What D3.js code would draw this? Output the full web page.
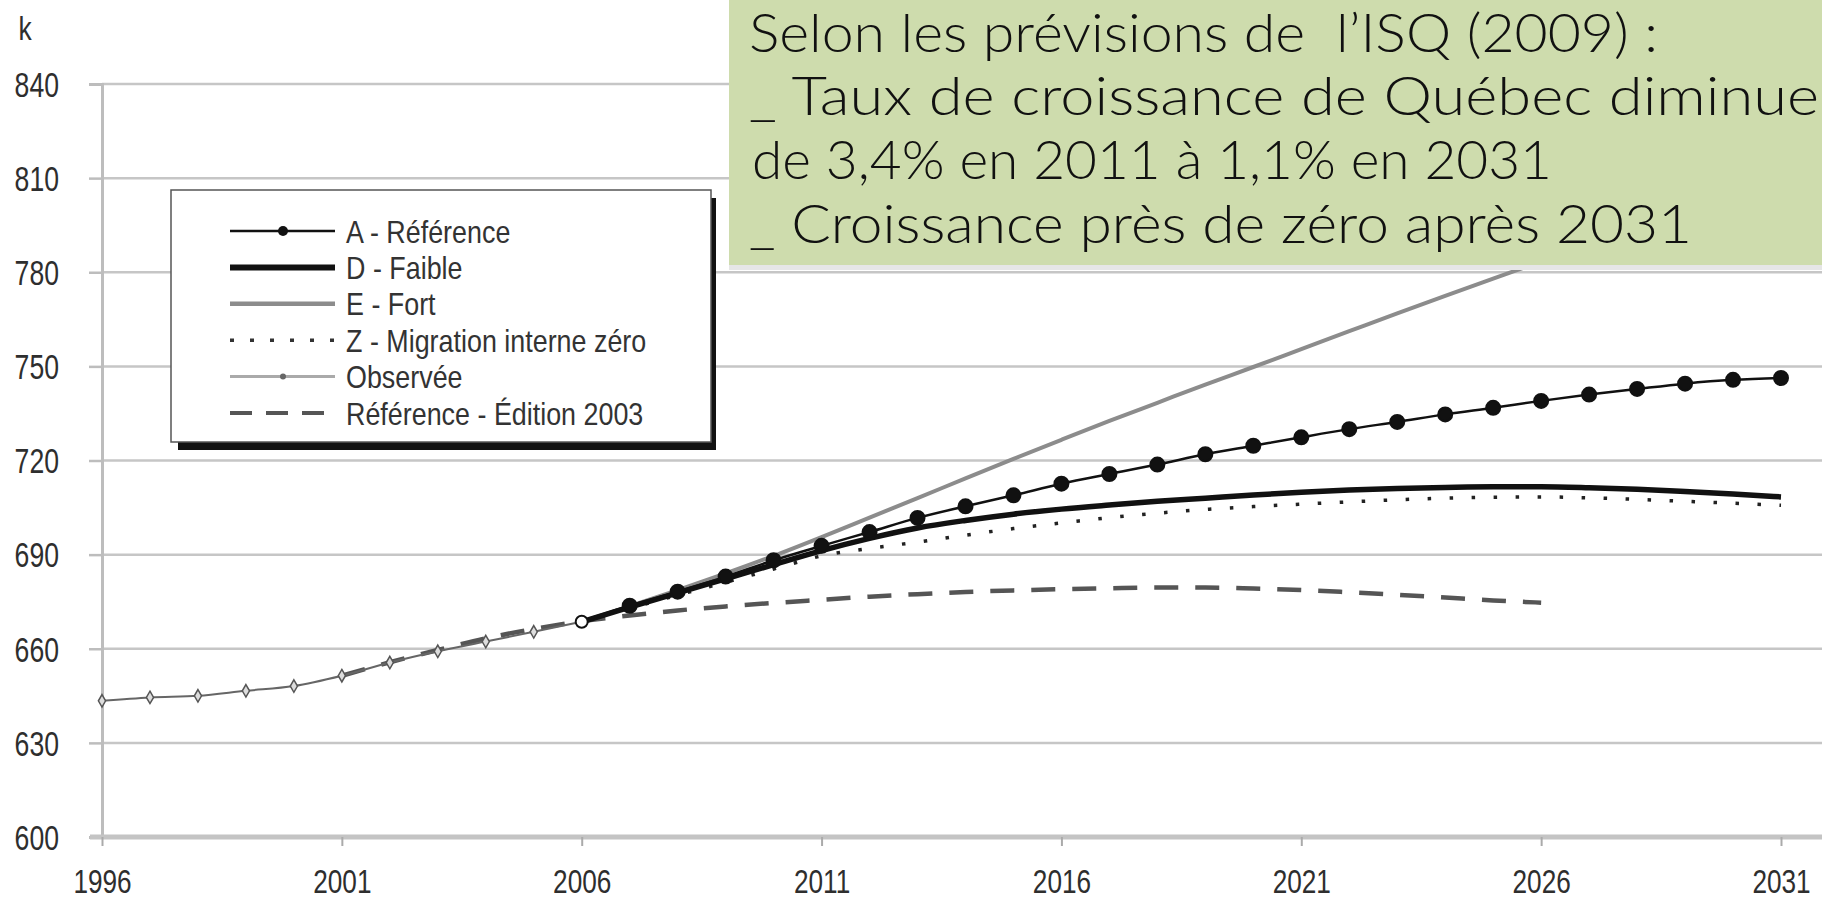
<!DOCTYPE html>
<html>
<head>
<meta charset="utf-8">
<script src="https://cdn.jsdelivr.net/npm/d3@7"></script>
<style>
  body { margin: 0; background: #fff; }
  svg { display: block; }
  .tick-label { font-family: "Liberation Sans", Arial, sans-serif; fill: #2e2e2e; }
  .legend-label { font-family: "Liberation Sans", Arial, sans-serif; fill: #333; }
  .note { font-family: Lato, "Noto Sans", sans-serif; font-weight: 300; fill: #111; white-space: pre; }
</style>
</head>
<body>
<div id="chart"></div>
<script>
// values in thousands (k)
const xTicks = [1996, 2001, 2006, 2011, 2016, 2021, 2026, 2031];
const yTicks = [600, 630, 660, 690, 720, 750, 780, 810, 840];

const obsYears = [1996, 1997, 1998, 1999, 2000, 2001, 2002, 2003, 2004, 2005, 2006];
const observed = [643.4, 644.5, 645.0, 646.6, 648.1, 651.4, 655.6, 659.2, 662.3, 665.4, 668.6];

const projYears = [2006, 2007, 2008, 2009, 2010, 2011, 2012, 2013, 2014, 2015, 2016, 2017, 2018,
  2019, 2020, 2021, 2022, 2023, 2024, 2025, 2026, 2027, 2028, 2029, 2030, 2031];
const scenA = [668.6, 673.7, 678.2, 683.0, 688.2, 692.8, 697.2, 701.7, 705.4, 708.9, 712.6, 715.7, 718.7,
  722.0, 724.7, 727.4, 730.0, 732.3, 734.7, 736.8, 739.0, 741.0, 742.8, 744.5, 745.7, 746.3];
const scenD = [668.6, 673.3, 677.8, 682.3, 686.8, 691.3, 695.2, 698.5, 700.9, 702.9, 704.5, 705.8, 707.0,
  708.0, 709.0, 709.9, 710.6, 711.1, 711.4, 711.6, 711.6, 711.3, 710.8, 710.1, 709.3, 708.4];
const scenE = [668.6, 673.6, 678.7, 684.0, 689.6, 695.6, 701.8, 708.0, 714.3, 720.5, 726.6, 732.6, 738.4,
  744.2, 749.8, 755.5, 761.2, 766.9, 772.5, 778.0, 783.4, 788.6, 793.7, 798.7, 803.6, 808.4];
const scenZ = [668.6, 672.9, 677.1, 681.2, 685.4, 689.6, 692.0, 694.0, 696.2, 698.3, 700.1, 701.8, 703.2,
  704.4, 705.3, 706.1, 706.8, 707.5, 708.0, 708.3, 708.4, 708.1, 707.6, 707.0, 706.4, 705.7];

const ref2003Years = [2001, 2002, 2003, 2004, 2005, 2006, 2007, 2008, 2009, 2010, 2011, 2012, 2013,
  2014, 2015, 2016, 2017, 2018, 2019, 2020, 2021, 2022, 2023, 2024, 2025, 2026];
const ref2003 = [651.4, 655.7, 659.6, 663.3, 666.3, 668.8, 670.6, 672.2, 673.5, 674.6, 675.6, 676.6, 677.4,
  678.1, 678.6, 679.0, 679.3, 679.5, 679.5, 679.2, 678.7, 678.0, 677.2, 676.3, 675.4, 674.7];

const legendLabels = ['A - Référence', 'D - Faible', 'E - Fort', 'Z - Migration interne zéro',
  'Observée', 'Référence - Édition 2003'];
const noteLines = ['Selon les prévisions de  l’ISQ (2009) :', '_ Taux de croissance de Québec diminue',
  'de 3,4% en 2011 à 1,1% en 2031', '_ Croissance près de zéro après 2031'];

const width = 1822;
const height = 899;

const svg = d3.select('#chart').append('svg')
  .attr('width', width)
  .attr('height', height);

const x = d3.scaleLinear().domain([1996, 2031]).range([102, 1781]);
const y = d3.scaleLinear().domain([600, 840]).range([837, 84]);

// gridlines
svg.append('g')
  .selectAll('line')
  .data(yTicks.slice(1))
  .enter().append('line')
  .attr('x1', x(1996))
  .attr('x2', width)
  .attr('y1', d => y(d))
  .attr('y2', d => y(d))
  .attr('stroke', '#c6c6c6')
  .attr('stroke-width', 2.5);

// y axis (labels squeezed sideways, the original uses a condensed face)
const yAxis = svg.append('g')
  .attr('transform', `translate(${x(1996)},0)`)
  .call(d3.axisLeft(y).tickValues(yTicks).tickSize(13));
yAxis.select('.domain').attr('stroke', '#bdbdbd').attr('stroke-width', 3);
yAxis.selectAll('.tick line').attr('stroke', '#bdbdbd').attr('stroke-width', 2.5);
yAxis.selectAll('.tick text')
  .attr('class', 'tick-label')
  .attr('font-size', 35)
  .attr('x', 0)
  .attr('text-anchor', 'end')
  .attr('dy', '0.35em')
  .attr('transform', 'translate(-43,0) scale(0.76,1)');

// x axis
const xAxis = svg.append('g')
  .attr('transform', `translate(0,${y(600)})`)
  .call(d3.axisBottom(x).tickValues(xTicks).tickFormat(d3.format('d')).tickSize(9).tickPadding(35));
xAxis.select('.domain').attr('stroke', '#c4c4c4').attr('stroke-width', 5)
  .attr('d', `M90,0H${width}`);
xAxis.selectAll('.tick line').attr('stroke', '#aaa').attr('stroke-width', 2);
xAxis.selectAll('.tick text')
  .attr('class', 'tick-label')
  .attr('font-size', 34)
  .attr('y', 0)
  .attr('dy', '0.35em')
  .attr('transform', 'translate(0,44) scale(0.77,1)');

svg.append('text')
  .attr('class', 'tick-label')
  .attr('transform', 'translate(25,40) scale(0.8,1)')
  .attr('text-anchor', 'middle')
  .attr('font-size', 33)
  .text('k');

const line = d3.line()
  .x(d => x(d[0]))
  .y(d => y(d[1]))
  .curve(d3.curveMonotoneX);

const pairs = (yrs, vals) => yrs.map((yr, i) => [yr, vals[i]]);

// Référence - Édition 2003
svg.append('path')
  .datum(pairs(ref2003Years, ref2003))
  .attr('d', line)
  .attr('fill', 'none')
  .attr('stroke', '#555')
  .attr('stroke-width', 4.5)
  .attr('stroke-dasharray', '24,17');

// Observée
svg.append('path')
  .datum(pairs(obsYears, observed))
  .attr('d', line)
  .attr('fill', 'none')
  .attr('stroke', '#666')
  .attr('stroke-width', 2);

svg.append('g')
  .selectAll('path')
  .data(pairs(obsYears, observed).slice(0, -1))
  .enter().append('path')
  .attr('transform', d => `translate(${x(d[0])},${y(d[1])})`)
  .attr('d', d3.symbol().type(d3.symbolDiamond).size(45))
  .attr('fill', '#ddd')
  .attr('stroke', '#555')
  .attr('stroke-width', 1.5);

// E - Fort
svg.append('path')
  .datum(pairs(projYears, scenE))
  .attr('d', line)
  .attr('fill', 'none')
  .attr('stroke', '#8c8c8c')
  .attr('stroke-width', 4);

// Z - Migration interne zéro
svg.append('path')
  .datum(pairs(projYears, scenZ))
  .attr('d', line)
  .attr('fill', 'none')
  .attr('stroke', '#222')
  .attr('stroke-width', 3.5)
  .attr('stroke-dasharray', '3.5,18.5');

// D - Faible
svg.append('path')
  .datum(pairs(projYears, scenD))
  .attr('d', line)
  .attr('fill', 'none')
  .attr('stroke', '#111')
  .attr('stroke-width', 5.5);

// A - Référence
svg.append('path')
  .datum(pairs(projYears, scenA))
  .attr('d', line)
  .attr('fill', 'none')
  .attr('stroke', '#111')
  .attr('stroke-width', 2.5);

svg.append('g')
  .selectAll('circle')
  .data(pairs(projYears, scenA))
  .enter().append('circle')
  .attr('cx', d => x(d[0]))
  .attr('cy', d => y(d[1]))
  .attr('r', (d, i) => (i === 0 ? 6 : 7))
  .attr('fill', (d, i) => (i === 0 ? '#fff' : '#111'))
  .attr('stroke', '#111')
  .attr('stroke-width', 2);

// legend
const legend = svg.append('g').attr('transform', 'translate(171,190)');
legend.append('rect')
  .attr('x', 7).attr('y', 8)
  .attr('width', 538).attr('height', 252)
  .attr('fill', '#111');
legend.append('rect')
  .attr('width', 540).attr('height', 252)
  .attr('fill', '#fff')
  .attr('stroke', '#555')
  .attr('stroke-width', 1.5);

const sampleStyles = [
  { stroke: '#111', width: 2.5, dash: null, dot: 5, dotFill: '#111' },
  { stroke: '#111', width: 6, dash: null, dot: 0 },
  { stroke: '#8c8c8c', width: 4.5, dash: null, dot: 0 },
  { stroke: '#333', width: 3.5, dash: '4,16', dot: 0 },
  { stroke: '#aaa', width: 3, dash: null, dot: 3, dotFill: '#666' },
  { stroke: '#555', width: 4, dash: '22,14', dot: 0 },
];

const rows = legend.selectAll('.row')
  .data(legendLabels)
  .enter().append('g')
  .attr('class', 'row')
  .attr('transform', (d, i) => `translate(0,${41 + i * 36.4})`);

rows.append('line')
  .attr('x1', 59).attr('x2', 164)
  .attr('stroke', (d, i) => sampleStyles[i].stroke)
  .attr('stroke-width', (d, i) => sampleStyles[i].width)
  .attr('stroke-dasharray', (d, i) => sampleStyles[i].dash);

rows.filter((d, i) => sampleStyles[i].dot > 0)
  .append('circle')
  .attr('cx', 112)
  .attr('r', (d) => sampleStyles[legendLabels.indexOf(d)].dot)
  .attr('fill', (d) => sampleStyles[legendLabels.indexOf(d)].dotFill);

rows.append('text')
  .attr('class', 'legend-label')
  .attr('transform', 'translate(175,0) scale(0.84,1)')
  .attr('dy', '0.36em')
  .attr('font-size', 32)
  .text(d => d);

// annotation box
svg.append('rect')
  .attr('x', 729).attr('y', 262)
  .attr('width', width - 729).attr('height', 8)
  .attr('fill', '#e6e6e6');
svg.append('rect')
  .attr('x', 729).attr('y', 0)
  .attr('width', width - 729).attr('height', 265)
  .attr('fill', '#cedcad');

const noteWidths = [909, 1070, 800, 943];
svg.append('g')
  .selectAll('text')
  .data(noteLines)
  .enter().append('text')
  .attr('class', 'note')
  .attr('x', (d, i) => (i === 2 ? 752 : 749))
  .attr('y', (d, i) => [52, 115, 179, 243][i])
  .attr('font-size', 54)
  .attr('textLength', (d, i) => noteWidths[i])
  .attr('lengthAdjust', 'spacingAndGlyphs')
  .text(d => d);
</script>
</body>
</html>
